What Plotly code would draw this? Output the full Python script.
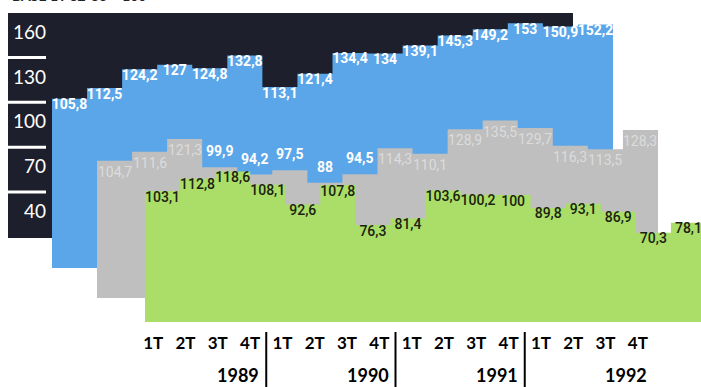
import plotly.graph_objects as go

W, H = 701, 387

quarters = ["1T", "2T", "3T", "4T"] * 4
years = ["1989", "1990", "1991", "1992"]
y_ticks = [160, 130, 100, 70, 40]

blue_vals = [105.8, 112.5, 124.2, 127, 124.8, 132.8, 113.1, 121.4,
             134.4, 134, 139.1, 145.3, 149.2, 153, 150.9, 152.2]
gray_vals = [104.7, 111.6, 121.3, 99.9, 94.2, 97.5, 88, 94.5,
             114.3, 110.1, 128.9, 135.5, 129.7, 116.3, 113.5, 128.3]
green_vals = [103.1, 112.8, 118.6, 108.1, 92.6, 107.8, 76.3, 81.4,
              103.6, 100.2, 100, 89.8, 93.1, 86.9, 70.3, 78.1]

BLUE = "#5ba6e8"
GRAY = "#bfbfbf"
GREEN = "#aade68"
DARK = "#1d1f2c"
NARROW = "Roboto, Lato, sans-serif"


def fmt(v):
    return f"{v:g}".replace(".", ",")


def step_xy(vals):
    xs = list(range(len(vals))) + [len(vals)]
    ys = list(vals) + [vals[-1]]
    return xs, ys


def px(x):
    return x / W


def py(y):
    return 1 - y / H


fig = go.Figure()

layers = [
    ("", blue_vals, BLUE),
    ("2", gray_vals, GRAY),
    ("3", green_vals, GREEN),
]
for suf, vals, col in layers:
    xs, ys = step_xy(vals)
    fig.add_trace(go.Scatter(
        x=xs, y=ys, mode="lines", line=dict(width=0, shape="hv", color=col),
        fill="tozeroy", fillcolor=col, xaxis="x" + suf, yaxis="y" + suf,
        hoverinfo="skip", showlegend=False))

centers = [i + 0.5 for i in range(16)]

# blue labels
fig.add_trace(go.Scatter(
    x=centers, y=blue_vals, mode="text", text=[fmt(v) for v in blue_vals],
    textposition="bottom center",
    textfont=dict(family=NARROW, size=14, color="white", weight="bold"),
    xaxis="x", yaxis="y", showlegend=False, hoverinfo="skip", cliponaxis=False))

# green labels
fig.add_trace(go.Scatter(
    x=centers, y=green_vals, mode="text", text=[fmt(v) for v in green_vals],
    textposition="bottom center",
    textfont=dict(family=NARROW, size=14, color="#1b2212", weight=500),
    xaxis="x3", yaxis="y3", showlegend=False, hoverinfo="skip", cliponaxis=False))

# dummy trace for the tick axes
fig.add_trace(go.Scatter(x=[None], y=[None], xaxis="x4", yaxis="y4",
                         showlegend=False, hoverinfo="skip"))

hidden = dict(visible=False, fixedrange=True)
fig.update_layout(
    width=W, height=H, margin=dict(l=0, r=0, t=0, b=0),
    paper_bgcolor="white", plot_bgcolor="rgba(0,0,0,0)",
    xaxis=dict(domain=[px(52), px(613)], range=[0, 16], anchor="y", **hidden),
    yaxis=dict(domain=[py(268), 1], range=[0, 268 / 1.60], anchor="x", **hidden),
    xaxis2=dict(domain=[px(97), px(658)], range=[0, 16], anchor="y2", **hidden),
    yaxis2=dict(domain=[py(298), 1], range=[0, 298 / 1.31], anchor="x2", **hidden),
    xaxis3=dict(domain=[px(145), 1], range=[0, (W - 145) / 35.06], anchor="y3", **hidden),
    yaxis3=dict(domain=[py(322), 1], range=[0, 322 / 1.27], anchor="x3", **hidden),
    xaxis4=dict(domain=[px(137), px(654)], range=[-0.5, 15.5], anchor="free",
                position=py(331), tickvals=list(range(16)), ticktext=quarters,
                ticks="", showline=False, showgrid=False, zeroline=False,
                tickfont=dict(family="Lato, sans-serif", size=17, color="black", weight="bold")),
    yaxis4=dict(domain=[py(238), 1], range=[160 - 206 / 1.496, 160 + 32 / 1.496],
                anchor="free", position=px(46), tickvals=y_ticks,
                ticktext=[str(t) for t in y_ticks], ticks="", showline=False,
                showgrid=False, zeroline=False,
                tickfont=dict(family="Lato, sans-serif", size=19, color="white")),
)

shapes = [dict(type="rect", xref="paper", yref="paper", layer="below",
               x0=px(8), x1=px(573), y0=py(238), y1=py(13),
               fillcolor=DARK, line=dict(width=0))]
for v in [143, 113, 83, 53]:
    shapes.append(dict(type="line", xref="paper", yref="y4", layer="below",
                       x0=px(8), x1=px(46), y0=v, y1=v,
                       line=dict(color="white", width=3)))
for k in range(len(years) - 1):
    xb = 4 * k + 3.5
    shapes.append(dict(type="line", xref="x4", yref="paper", x0=xb, x1=xb,
                       y0=0, y1=py(332), line=dict(color="black", width=2)))
fig.update_layout(shapes=shapes)

ann = []
# gray labels: inside (faint) when high, above in white when low
for c, v in zip(centers, gray_vals):
    above = v < 100
    ann.append(dict(text=fmt(v), xref="x2", yref="y2", x=c, y=v,
                    xanchor="center", yanchor="bottom" if above else "top",
                    yshift=6 if above else -1, showarrow=False,
                    font=dict(family=NARROW, size=14,
                              color="white" if above else "#dcdcdc",
                              weight="bold" if above else "normal")))
for k, yr in enumerate(years):
    ann.append(dict(text=yr, xref="x4", yref="paper", x=4 * k + 3.5, y=py(375),
                    xanchor="right", yanchor="middle", xshift=-5, showarrow=False,
                    font=dict(family="Lato, sans-serif", size=18, color="black", weight="bold")))
ann.append(dict(text="BASE 1T 82-83 = 100", xref="paper", yref="paper", x=px(10), y=py(-5),
                xanchor="left", yanchor="middle", showarrow=False,
                font=dict(family="Lato, sans-serif", size=14, color="#222", weight="bold")))
fig.update_layout(annotations=ann)

fig.write_html("out.html")
